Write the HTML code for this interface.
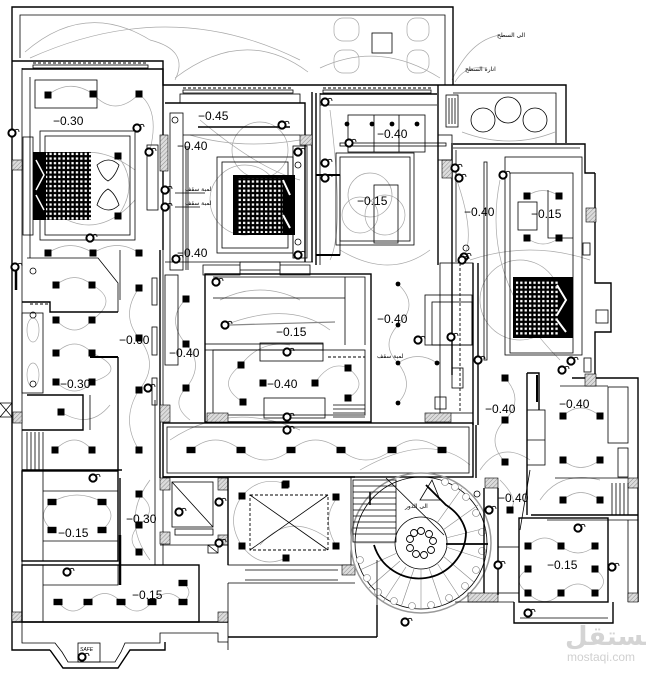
<!DOCTYPE html>
<html><head><meta charset="utf-8"><style>
html,body{margin:0;padding:0;background:#fff;}
svg{display:block}
.w{stroke:#000;stroke-width:1.4;fill:none}
.t{stroke:#000;stroke-width:0.8;fill:none}
.g{stroke:#a8a8a8;stroke-width:0.7;fill:none}
.d{stroke:#000;stroke-width:0.9;fill:none;stroke-dasharray:3,2}
.h{fill:url(#hat);stroke:#000;stroke-width:0.6}
.lb{font-family:"Liberation Sans",sans-serif;font-size:12px;fill:#000}
.ar{font-family:"DejaVu Sans",sans-serif;font-size:6px;fill:#000}
</style></head><body>
<svg width="646" height="674" viewBox="0 0 646 674" xmlns="http://www.w3.org/2000/svg">
<defs>
<pattern id="gh" width="4.4" height="4.6" patternUnits="userSpaceOnUse"><rect x="1" y="1" width="2.3" height="2.3" fill="#fff"/></pattern>
<pattern id="hat" width="3" height="3" patternUnits="userSpaceOnUse" patternTransform="rotate(45)"><rect width="3" height="3" fill="#dcdcdc"/><line x1="0" y1="0" x2="0" y2="3" stroke="#777" stroke-width="0.8"/></pattern>
<rect id="s" x="-3.5" y="-3.5" width="7" height="7" fill="#000"/>
<rect id="sw" x="-4.5" y="-3.2" width="9" height="6.4" fill="#000"/>
<g id="r"><circle r="3.6" fill="#fff" stroke="#000" stroke-width="2"/><path d="M3,-3 q4,-2 4,2" class="t" stroke-width="0.6"/></g>
<circle id="dot" r="2.4" fill="#000"/>
</defs>

<!-- ===== grey wiring arcs ===== -->
<g class="g">
<path d="M25,52 Q85,0 150,40"/><path d="M150,40 Q190,50 175,80"/><path d="M175,78 Q245,25 308,72"/>
<path d="M320,68 Q380,40 440,78"/><path d="M452,80 Q470,40 500,35"/><path d="M455,82 Q465,65 485,68"/>
<path d="M462,132 Q510,150 555,132"/><path d="M30,58 Q170,-5 300,60"/>
<path d="M48,95 Q70,78 93,94"/><path d="M93,94 Q115,118 139,94"/><path d="M139,94 Q160,110 150,150"/>
<path d="M118,156 Q140,185 118,216"/><path d="M48,253 Q70,238 93,253"/><path d="M93,253 Q118,238 139,253"/>
<path d="M40,180 Q80,130 135,170"/><path d="M40,200 Q90,250 135,200"/>
<path d="M56,285 Q75,270 92,285"/><path d="M92,285 Q120,300 92,320"/><path d="M56,320 Q75,340 92,320"/>
<path d="M56,353 Q75,335 92,353"/><path d="M56,382 Q75,400 92,382"/><path d="M92,353 Q130,370 92,382"/>
<path d="M55,450 Q75,430 92,450"/><path d="M61,412 Q90,430 110,405"/>
<path d="M139,288 Q120,315 139,338"/><path d="M139,338 Q160,365 139,390"/><path d="M139,390 Q120,420 139,450"/>
<path d="M186,299 Q165,320 186,344"/><path d="M186,344 Q205,365 186,388"/><path d="M186,388 Q170,405 190,420"/>
<path d="M190,135 Q240,150 300,140"/><path d="M200,120 Q260,170 300,180"/>
<circle cx="245" cy="200" r="35"/><circle cx="260" cy="150" r="28"/>
<circle cx="370" cy="195" r="22"/><circle cx="385" cy="215" r="20"/><circle cx="360" cy="215" r="18"/>
<path d="M330,110 Q345,230 330,260"/><path d="M340,250 Q390,280 430,250"/>
<path d="M455,175 Q475,230 465,255"/><path d="M527,196 Q543,185 559,196"/><path d="M527,238 Q543,250 559,238"/>
<path d="M500,180 Q480,280 560,360"/><path d="M470,260 Q530,240 590,260"/>
<circle cx="520" cy="300" r="40"/>
<path d="M241,365 Q260,340 290,345"/><path d="M243,402 Q215,385 241,365"/><path d="M315,383 Q330,360 348,368"/><path d="M348,368 Q370,385 348,398"/>
<path d="M225,325 Q290,300 330,330"/><path d="M220,300 Q260,280 300,300"/>
<path d="M398,284 Q420,305 398,325"/><path d="M398,325 Q380,345 398,363"/><path d="M398,363 Q415,385 398,403"/><path d="M398,363 Q418,350 437,363"/>
<path d="M191,450 Q215,430 241,450"/><path d="M241,450 Q265,470 291,450"/><path d="M291,450 Q315,430 341,450"/><path d="M341,450 Q365,470 392,450"/><path d="M392,450 Q415,430 442,450"/>
<path d="M505,378 Q525,400 505,420"/><path d="M505,420 Q485,440 505,462"/><path d="M480,470 Q500,440 530,460"/>
<path d="M563,416 Q580,400 600,416"/><path d="M563,460 Q580,475 600,460"/><path d="M563,500 Q580,485 600,500"/>
<path d="M528,546 Q545,530 561,546"/><path d="M561,546 Q578,560 595,546"/><path d="M528,569 Q510,580 528,593"/><path d="M528,593 Q545,610 561,593"/><path d="M561,593 Q578,575 595,593"/><path d="M595,569 Q612,582 595,593"/>
<path d="M52,502 Q77,488 102,502"/><path d="M52,530 Q35,515 52,502"/><path d="M102,530 Q120,515 102,502"/>
<path d="M139,494 Q160,510 139,525"/><path d="M139,525 Q125,540 139,552"/>
<path d="M58,602 Q73,620 88,602"/><path d="M88,602 Q105,585 121,602"/><path d="M121,602 Q137,620 152,602"/><path d="M152,602 Q168,585 183,602"/><path d="M183,583 Q195,592 183,602"/>
<path d="M242,496 Q260,475 286,484"/><path d="M242,546 Q260,570 286,558"/><path d="M242,496 Q225,520 242,546"/><path d="M260,545 Q290,510 330,540"/>
<path d="M337,498 Q320,520 337,547"/><path d="M360,470 Q430,430 470,465"/>
<path d="M500,480 Q520,500 510,510"/><path d="M540,500 Q560,470 600,480"/>
<path d="M150,480 Q120,520 150,560"/><path d="M170,440 Q230,400 300,430"/>
</g>

<!-- ===== terraces ===== -->
<path class="w" d="M12,60 V7 H453 V85"/>
<path class="t" d="M20,58 V15 H445 V85"/>
<path class="w" d="M12,61 H163 V85 H453"/>
<line class="d" x1="33" y1="63" x2="148" y2="63"/>
<rect class="t" x="33" y="65" width="115" height="3"/>
<line class="d" x1="183" y1="88" x2="293" y2="88"/>
<rect class="t" x="183" y="90" width="110" height="3"/>
<line class="d" x1="323" y1="88" x2="431" y2="88"/>
<rect class="t" x="323" y="90" width="108" height="3"/>
<g class="g" stroke="#999">
<rect x="334" y="18" width="25" height="23" rx="9"/><rect x="407" y="18" width="22" height="23" rx="9"/>
<rect x="334" y="50" width="25" height="23" rx="9"/><rect x="407" y="50" width="22" height="23" rx="9"/>
</g>
<rect class="t" x="372" y="33" width="20" height="20"/>
<path class="w" d="M453,85 H566 V143"/>
<path class="t" d="M453,93 H556 V143"/>
<rect class="t" x="446" y="95" width="12" height="32"/>
<path class="t" d="M449,98 V124 M452,98 V124 M455,98 V124"/>
<g class="t" stroke="#555"><circle cx="483" cy="120" r="12"/><circle cx="508" cy="110" r="13"/><circle cx="535" cy="120" r="12"/></g>
<path class="w" d="M453,144 H585 V173 H595"/>
<line class="t" x1="453" y1="148" x2="580" y2="148"/>
<text class="ar" x="497" y="37">الى السطح</text>
<text class="ar" x="465" y="71">انارة السطح</text>

<!-- ===== building left outer ===== -->
<path class="w" d="M12,60 V650 H50"/>
<line class="t" x1="22" y1="68" x2="22" y2="622"/>
<rect class="h" x="12" y="160" width="10" height="10"/>
<rect class="h" x="13" y="412" width="9" height="11"/>
<rect class="h" x="12" y="612" width="10" height="10"/>
<path class="t" d="M0,403 H12 V417 H0 M0,403 L12,417 M12,403 L0,417"/>
<line x1="16" y1="265" x2="16" y2="290" stroke="#000" stroke-width="2.5"/>

<!-- ===== top-left room ===== -->
<path class="w" d="M22,69 H163 V250"/>
<line class="t" x1="30" y1="77" x2="30" y2="258"/>
<rect class="t" x="35" y="80" width="62" height="28"/>
<rect class="t" x="40" y="131" width="95" height="109"/>
<rect class="t" x="45" y="136" width="85" height="99"/>
<rect class="t" x="23" y="137" width="10" height="98"/>
<rect x="33" y="152" width="58" height="68" fill="#000"/>
<rect x="46" y="152" width="45" height="68" fill="url(#gh)"/>
<path d="M36,160 L44,175 L36,190 M36,195 L44,210" stroke="#fff" stroke-width="1.5" fill="none"/>
<g class="t" stroke="#666"><path d="M97,165 q12,-10 22,0 q-4,12 -11,16 q-7,-4 -11,-16z"/><path d="M97,205 q12,10 22,0 q-4,-12 -11,-16 q-7,4 -11,16z"/></g>
<rect class="t" x="147" y="145" width="11" height="65"/>
<line class="t" x1="163" y1="135" x2="163" y2="230"/>
<rect class="h" x="160" y="135" width="8" height="36"/>

<!-- ===== room 2 ===== -->
<rect class="t" x="180" y="94" width="120" height="9"/>
<path class="w" d="M165,103 H305 V262"/>
<line class="w" x1="312" y1="92" x2="312" y2="262"/>
<rect class="h" x="300" y="135" width="12" height="10"/>
<rect class="t" x="170" y="113" width="13" height="157"/>
<line class="t" x1="183" y1="135" x2="300" y2="135"/>
<line x1="198" y1="127" x2="290" y2="127" stroke="#000" stroke-width="1.5"/>
<rect class="t" x="217" y="157" width="76" height="96"/>
<rect class="t" x="222" y="162" width="66" height="86"/>
<rect x="233" y="175" width="62" height="60" fill="#000"/>
<rect x="238" y="178" width="45" height="55" fill="url(#gh)"/>
<path d="M283,180 L290,195 M283,215 L290,228" stroke="#fff" stroke-width="2" fill="none"/>
<rect class="t" x="293" y="146" width="14" height="112"/>
<path class="t" d="M175,193 H205 M175,207 H200"/>
<text class="ar" x="185" y="191">لمبة سقف</text>
<text class="ar" x="185" y="205">لمبة سقف</text>
<path class="t" d="M203,265 h37 v10 h-37z M240,262 h40 v8 h-40z M280,265 h30 v10 h-30z"/>
<path class="t" d="M186,146 V270 M188,146 V270"/>

<!-- ===== room 3 ===== -->
<line class="w" x1="316" y1="93" x2="316" y2="265"/>
<line class="t" x1="320" y1="93" x2="320" y2="265"/>
<line class="w" x1="320" y1="94" x2="437" y2="94"/>
<line class="t" x1="320" y1="105" x2="437" y2="105"/>
<rect class="t" x="348" y="115" width="77" height="37"/>
<path class="t" d="M374,115 V152 M399,115 V152"/>
<rect class="t" x="340" y="143" width="106" height="3"/>
<rect class="t" x="336" y="153" width="78" height="92"/>
<rect class="t" x="340" y="157" width="70" height="84"/>
<rect class="t" x="374" y="185" width="24" height="58"/>
<rect class="t" x="316" y="175" width="24" height="80"/>
<line x1="316" y1="175" x2="340" y2="175" stroke="#000" stroke-width="2"/>
<line x1="316" y1="255" x2="340" y2="255" stroke="#000" stroke-width="2"/>
<path class="w" d="M438,85 V265 M452,143 V375"/>
<line class="t" x1="456" y1="150" x2="456" y2="262"/>
<rect class="h" x="442" y="160" width="10" height="18"/>
<rect class="t" x="438" y="135" width="14" height="25"/>

<!-- ===== right room ===== -->
<rect class="t" x="484" y="162" width="3" height="198"/>
<rect class="t" x="505" y="157" width="77" height="198"/>
<rect class="t" x="510" y="173" width="63" height="180"/>
<rect class="t" x="518" y="202" width="19" height="28"/>
<path class="t" d="M548,190 V238 H573"/>
<rect x="513" y="277" width="60" height="61" fill="#000"/>
<rect x="516" y="280" width="42" height="56" fill="url(#gh)"/>
<path d="M557,285 L566,300 L557,315 M557,320 L566,332" stroke="#fff" stroke-width="2" fill="none"/>
<path class="w" d="M595,173 V283 H611 V332 H595 V378"/>
<rect class="t" x="596" y="310" width="12" height="13"/>
<rect class="h" x="586" y="208" width="10" height="14"/>
<rect class="t" x="583" y="243" width="7" height="12"/>
<rect class="t" x="584" y="358" width="7" height="14"/>
<path class="w" d="M473,263 V425 M478,263 V425"/>

<!-- ===== middle block ===== -->
<line class="w" x1="160" y1="250" x2="160" y2="478"/>
<line class="t" x1="163" y1="250" x2="163" y2="565"/>
<rect class="t" x="152" y="278" width="5" height="27"/>
<rect class="t" x="152" y="327" width="5" height="28"/>
<rect class="t" x="152" y="378" width="5" height="27"/>
<rect class="t" x="165" y="275" width="13" height="90"/>
<line class="t" x1="165" y1="262" x2="313" y2="262"/>
<rect class="w" x="205" y="274" width="166" height="148"/>
<path class="t" d="M213,277 H365 V345 M213,298 H345 M345,277 V345"/>
<rect class="t" x="205" y="344" width="118" height="6"/>
<rect class="t" x="260" y="343" width="63" height="18"/>
<rect class="t" x="213" y="350" width="152" height="65"/>
<line class="d" x1="328" y1="357" x2="365" y2="357"/>
<rect class="t" x="264" y="398" width="61" height="20"/>
<path class="t" d="M333,405 H365 M333,409 H365 M333,413 H365 M333,417 H365"/>
<line x1="230" y1="325" x2="335" y2="322" stroke="#888" stroke-width="1.2"/>
<rect class="t" x="440" y="263" width="33" height="150"/>
<line class="d" x1="460" y1="263" x2="460" y2="413"/>
<rect class="t" x="425" y="295" width="47" height="50"/>
<rect class="t" x="432" y="302" width="40" height="43"/>
<rect class="t" x="452" y="368" width="11" height="20"/>
<rect class="t" x="435" y="397" width="11" height="12"/>
<rect class="h" x="160" y="405" width="10" height="17"/>
<rect class="h" x="207" y="413" width="21" height="9"/>
<rect class="h" x="425" y="413" width="26" height="9"/>
<text class="ar" x="377" y="358">لمبة سقف</text>

<!-- corridor -->
<rect class="w" x="163" y="423" width="310" height="54"/>
<rect class="t" x="167" y="427" width="302" height="46"/>

<!-- ===== left column rooms ===== -->
<path class="t" d="M27,258 H98 L118,283 V312"/>
<path class="w" d="M22,302 H50 V312 H118"/>
<line class="d" x1="30" y1="304" x2="50" y2="304"/>
<rect class="t" x="22" y="313" width="21" height="80"/>
<g class="g"><ellipse cx="33" cy="330" rx="6" ry="12"/><ellipse cx="33" cy="375" rx="6" ry="12"/></g>
<path d="M90,357 H118" stroke="#000" stroke-width="2"/>
<line class="w" x1="118" y1="357" x2="118" y2="470"/>
<path class="w" d="M27,395 H83 V430 H22"/>
<line class="t" x1="90" y1="395" x2="90" y2="430"/>
<path class="t" d="M27,432 V470 M31,432 V470 M35,432 V470 M39,432 V470 M43,432 V470"/>
<line class="w" x1="22" y1="470" x2="122" y2="470"/>
<line class="t" x1="120" y1="250" x2="120" y2="300"/>
<line class="t" x1="155" y1="400" x2="155" y2="565"/>

<!-- ===== bottom left ===== -->
<rect class="w" x="22" y="471" width="96" height="90"/>
<line class="t" x1="43" y1="471" x2="43" y2="561"/>
<path class="t" d="M43,491 H118 M43,541 H118"/>
<line class="w" x1="120" y1="478" x2="120" y2="560"/>
<rect class="w" x="22" y="565" width="177" height="57"/>
<line class="t" x1="43" y1="565" x2="43" y2="622"/>
<path class="t" d="M43,585 H118 V565"/>
<line x1="120" y1="535" x2="120" y2="585" stroke="#000" stroke-width="2.5"/>
<line class="w" x1="12" y1="622" x2="228" y2="622"/>
<path class="t" d="M22,622 V643 H55 L62,652 L68,662 H115 L121,652 L125,643 H160 V633 H218 V642 H228"/>
<path class="w" d="M50,650 L63,668 H118 L130,650 H165 V642"/>
<rect class="t" x="78" y="643" width="22" height="19"/>
<text x="80" y="651" font-family="Liberation Sans,sans-serif" font-size="5" font-style="italic">SAFE</text>
<rect class="h" x="218" y="612" width="10" height="10"/>

<!-- ===== bottom centre ===== -->
<line class="w" x1="163" y1="477" x2="355" y2="477"/>
<rect class="h" x="160" y="478" width="10" height="12"/>
<rect class="h" x="218" y="478" width="10" height="12"/>
<rect class="h" x="160" y="532" width="10" height="12"/>
<rect class="h" x="218" y="535" width="10" height="10"/>
<rect class="t" x="172" y="482" width="41" height="45"/>
<path class="t" d="M172,482 L213,527"/>
<rect class="t" x="175" y="529" width="38" height="6"/>
<path class="t" d="M208,545 h10 v8 h-10z M208,545 l10,8"/>
<path class="t" d="M160,545 H228"/>
<line class="w" x1="228" y1="478" x2="228" y2="565"/>
<rect class="t" x="228" y="477" width="123" height="88"/>
<rect class="d" x="250" y="495" width="78" height="55"/>
<path class="t" d="M250,495 L328,550 M328,495 L250,550" stroke="#888"/>
<path class="t" d="M245,570 H338 M245,580 H338"/>
<path class="t" d="M228,583 H355 M228,583 V650"/>
<rect class="h" x="342" y="565" width="13" height="10"/>
<line class="w" x1="228" y1="637" x2="377" y2="637"/>
<line class="w" x1="377" y1="605" x2="377" y2="637"/>

<!-- ===== stairs ===== -->
<g>
<circle cx="421" cy="543" r="70" fill="none" stroke="#999" stroke-width="1.5"/>
<circle cx="421" cy="543" r="66" class="t"/>
<circle cx="421" cy="543" r="26" class="t" stroke="#777"/>
<g stroke="#888" stroke-width="0.6">
<line x1="395" y1="543" x2="355" y2="543"/><line x1="397" y1="553" x2="360" y2="570"/><line x1="400" y1="561" x2="369" y2="588"/>
<line x1="406" y1="567" x2="383" y2="602"/><line x1="414" y1="569" x2="401" y2="607"/><line x1="421" y1="569" x2="421" y2="609"/>
<line x1="429" y1="568" x2="442" y2="606"/><line x1="437" y1="563" x2="460" y2="598"/><line x1="443" y1="556" x2="475" y2="583"/>
<line x1="446" y1="547" x2="486" y2="560"/><line x1="446" y1="538" x2="486" y2="528"/><line x1="443" y1="530" x2="478" y2="505"/>
<line x1="437" y1="523" x2="462" y2="488"/>
</g>
<g fill="#fff" stroke="#777" stroke-width="0.6">
<circle cx="360" cy="560" r="3.5"/><circle cx="367" cy="578" r="3.5"/><circle cx="378" cy="592" r="3.5"/><circle cx="394" cy="601" r="3.5"/>
<circle cx="412" cy="606" r="3.5"/><circle cx="431" cy="605" r="3.5"/><circle cx="449" cy="598" r="3.5"/><circle cx="465" cy="586" r="3.5"/>
<circle cx="476" cy="570" r="3.5"/><circle cx="482" cy="551" r="3.5"/><circle cx="482" cy="532" r="3.5"/><circle cx="476" cy="513" r="3.5"/>
<circle cx="466" cy="497" r="3.5"/><circle cx="455" cy="487" r="3.5"/><circle cx="445" cy="482" r="3.5"/>
</g>
<path d="M374,545 A47,47 0 0,0 466,532 Q462,515 446,505 L426,485" fill="none" stroke="#000" stroke-width="1.8"/>
<line x1="446" y1="544" x2="488" y2="544" stroke="#000" stroke-width="1.8"/>
<g fill="#fff" stroke="#000" stroke-width="0.9">
<circle cx="421" cy="531" r="3.5"/><circle cx="429" cy="534" r="3.5"/><circle cx="433" cy="541" r="3.5"/><circle cx="431" cy="550" r="3.5"/>
<circle cx="424" cy="555" r="3.5"/><circle cx="416" cy="554" r="3.5"/><circle cx="410" cy="548" r="3.5"/><circle cx="410" cy="539" r="3.5"/><circle cx="414" cy="533" r="3.5"/>
</g>
<rect class="t" x="353" y="480" width="43" height="62"/>
<path class="t" d="M353,486 H396 M353,492 H396 M353,498 H396 M353,504 H396 M353,510 H396 M353,516 H396 M353,522 H396 M353,528 H396 M353,534 H396"/>
<line x1="370" y1="492" x2="370" y2="505" stroke="#000" stroke-width="1.5"/>
<line class="t" x1="386" y1="478" x2="444" y2="535"/>
<path class="t" d="M420,500 L432,480 L440,500 Z"/>
<text class="ar" x="405" y="508">الى الدور</text>
<path class="t" d="M377,605 V560"/>
</g>

<!-- ===== right lower rooms ===== -->
<line class="w" x1="476" y1="425" x2="476" y2="478"/>
<path class="w" d="M527,373 H539 V410"/>
<line class="w" x1="527" y1="373" x2="527" y2="515"/>
<rect class="t" x="527" y="410" width="18" height="55"/>
<line class="t" x1="527" y1="440" x2="545" y2="440"/>
<line x1="537" y1="375" x2="537" y2="402" stroke="#000" stroke-width="2"/>
<path class="w" d="M572,378 H638 V602"/>
<path class="t" d="M560,386 H608"/>
<rect class="t" x="608" y="387" width="20" height="56"/>
<rect class="t" x="618" y="448" width="10" height="29"/>
<rect class="h" x="585" y="374" width="11" height="12"/>
<rect class="h" x="628" y="478" width="10" height="10"/>
<path class="t" d="M555,478 H628"/>
<path class="t" d="M612,483 V515 M616,483 V515 M620,483 V515 M624,483 V515 M628,483 V515"/>
<line class="w" x1="531" y1="515" x2="638" y2="515"/>
<rect class="w" x="519" y="518" width="89" height="84"/>
<line class="t" x1="547" y1="520" x2="638" y2="520"/>
<path class="t" d="M608,518 V602 M628,520 V602"/>
<path class="w" d="M514,602 V623 H613 V602"/>
<line class="t" x1="520" y1="618" x2="608" y2="618"/>
<rect class="h" x="628" y="593" width="10" height="9"/>
<rect class="h" x="468" y="593" width="30" height="9"/>
<rect class="h" x="485" y="478" width="13" height="10"/>
<path class="w" d="M484,488 V593 M498,488 V595"/>
<rect class="t" x="498" y="547" width="21" height="46"/>
<line class="t" x1="455" y1="602" x2="514" y2="602"/>
<path class="t" d="M520,530 L530,470"/>

<!-- ===== fixtures: squares ===== -->
<g>
<use href="#s" x="48" y="95"/><use href="#s" x="93" y="94"/><use href="#s" x="139" y="94"/>
<use href="#s" x="118" y="156"/><use href="#s" x="118" y="216"/>
<use href="#s" x="48" y="253"/><use href="#s" x="93" y="253"/><use href="#s" x="139" y="253"/>
<use href="#s" x="56" y="285"/><use href="#s" x="92" y="285"/><use href="#s" x="56" y="320"/><use href="#s" x="92" y="320"/>
<use href="#s" x="56" y="353"/><use href="#s" x="92" y="353"/><use href="#s" x="56" y="382"/><use href="#s" x="92" y="382"/>
<use href="#s" x="61" y="412"/><use href="#s" x="55" y="450"/><use href="#s" x="92" y="450"/>
<use href="#s" x="139" y="288"/><use href="#s" x="139" y="338"/><use href="#s" x="139" y="390"/><use href="#s" x="139" y="450"/>
<use href="#s" x="186" y="299"/><use href="#s" x="186" y="344"/><use href="#s" x="186" y="388"/>
<use href="#s" x="241" y="365"/><use href="#s" x="263" y="383"/><use href="#s" x="243" y="402"/>
<use href="#s" x="348" y="368"/><use href="#s" x="315" y="383"/><use href="#s" x="348" y="398"/>
<use href="#sw" x="191" y="450"/><use href="#sw" x="241" y="450"/><use href="#sw" x="291" y="450"/>
<use href="#sw" x="341" y="450"/><use href="#sw" x="392" y="450"/><use href="#sw" x="442" y="450"/>
<use href="#s" x="505" y="378"/><use href="#s" x="505" y="420"/><use href="#s" x="505" y="462"/>
<use href="#s" x="527" y="196"/><use href="#s" x="559" y="196"/><use href="#s" x="527" y="238"/><use href="#s" x="559" y="238"/>
<use href="#s" x="563" y="416"/><use href="#s" x="600" y="416"/><use href="#s" x="563" y="460"/><use href="#s" x="600" y="460"/>
<use href="#s" x="563" y="500"/><use href="#s" x="600" y="500"/><use href="#s" x="510" y="510"/>
<use href="#s" x="528" y="546"/><use href="#s" x="561" y="546"/><use href="#s" x="595" y="546"/>
<use href="#s" x="528" y="569"/><use href="#s" x="595" y="569"/>
<use href="#s" x="528" y="593"/><use href="#s" x="561" y="593"/><use href="#s" x="595" y="593"/>
<use href="#s" x="139" y="494"/><use href="#s" x="139" y="525"/><use href="#s" x="139" y="552"/>
<use href="#sw" x="52" y="502"/><use href="#sw" x="102" y="502"/><use href="#sw" x="52" y="530"/><use href="#sw" x="102" y="530"/>
<use href="#sw" x="58" y="602"/><use href="#sw" x="88" y="602"/><use href="#sw" x="121" y="602"/><use href="#sw" x="152" y="602"/><use href="#sw" x="183" y="602"/><use href="#sw" x="183" y="583"/>
<use href="#s" x="242" y="496"/><use href="#s" x="286" y="484"/><use href="#s" x="242" y="546"/><use href="#s" x="286" y="558"/>
<use href="#s" x="336" y="497"/><use href="#s" x="336" y="546"/>
<use href="#s" x="285" y="485"/>
<use href="#dot" x="398" y="284"/><use href="#dot" x="398" y="325"/><use href="#dot" x="398" y="363"/><use href="#dot" x="437" y="363"/><use href="#dot" x="398" y="403"/>
<use href="#dot" x="347" y="124"/><use href="#dot" x="372" y="124"/><use href="#dot" x="392" y="124"/><use href="#dot" x="417" y="124"/>
</g>

<!-- ===== fixtures: rings ===== -->
<g>
<use href="#r" x="12" y="133"/><use href="#r" x="137" y="128"/><use href="#r" x="90" y="238"/><use href="#r" x="149" y="152"/>
<use href="#r" x="165" y="190"/><use href="#r" x="165" y="207"/><use href="#r" x="176" y="259"/><use href="#r" x="282" y="125"/>
<use href="#r" x="298" y="152"/><use href="#r" x="298" y="255"/><use href="#r" x="325" y="163"/><use href="#r" x="325" y="178"/>
<use href="#r" x="325" y="102"/><use href="#r" x="349" y="143"/><use href="#r" x="455" y="168"/><use href="#r" x="459" y="178"/>
<use href="#r" x="503" y="175"/><use href="#r" x="464" y="257"/><use href="#r" x="15" y="267"/><use href="#r" x="216" y="282"/>
<use href="#r" x="225" y="325"/><use href="#r" x="287" y="352"/><use href="#r" x="287" y="417"/><use href="#r" x="287" y="430"/>
<use href="#r" x="418" y="340"/><use href="#r" x="451" y="337"/><use href="#r" x="478" y="360"/><use href="#r" x="571" y="361"/>
<use href="#r" x="562" y="370"/><use href="#r" x="148" y="388"/><use href="#r" x="93" y="478"/><use href="#r" x="67" y="572"/>
<use href="#r" x="219" y="502"/><use href="#r" x="219" y="543"/><use href="#r" x="179" y="512"/><use href="#r" x="82" y="657"/>
<use href="#r" x="489" y="510"/><use href="#r" x="498" y="565"/><use href="#r" x="578" y="528"/><use href="#r" x="612" y="567"/>
<use href="#r" x="528" y="613"/><use href="#r" x="405" y="622"/><use href="#r" x="462" y="260"/>
</g>
<g class="t" stroke="#333">
<circle cx="175" cy="120" r="3"/><circle cx="33" cy="271" r="3"/><circle cx="33" cy="315" r="3"/><circle cx="33" cy="384" r="3"/>
<circle cx="466" cy="248" r="3"/><circle cx="477" cy="494" r="3"/><circle cx="298" cy="165" r="3"/><circle cx="298" cy="242" r="3"/>
</g>

<!-- ===== level labels ===== -->
<g class="lb">
<text x="53" y="125">−0.30</text>
<text x="198" y="120">−0.45</text>
<text x="177" y="150">−0.40</text>
<text x="177" y="257">−0.40</text>
<text x="377" y="138">−0.40</text>
<text x="357" y="205">−0.15</text>
<text x="464" y="216">−0.40</text>
<text x="531" y="218">−0.15</text>
<text x="119" y="344">−0.60</text>
<text x="60" y="388">−0.30</text>
<text x="169" y="357">−0.40</text>
<text x="276" y="336">−0.15</text>
<text x="267" y="388">−0.40</text>
<text x="377" y="323">−0.40</text>
<text x="485" y="413">−0.40</text>
<text x="559" y="408">−0.40</text>
<text x="126" y="523">−0.30</text>
<text x="58" y="537">−0.15</text>
<text x="132" y="599">−0.15</text>
<text x="498" y="502">−0.40</text>
<text x="547" y="569">−0.15</text>
</g>

<!-- watermark -->
<text x="565" y="645" font-family="DejaVu Sans,sans-serif" font-size="26" font-weight="bold" fill="#d4d4d4">مستقل</text>
<text x="567" y="661" font-family="Liberation Sans,sans-serif" font-size="12" fill="#d0d0d0">mostaqi.com</text>
</svg>
</body></html>
